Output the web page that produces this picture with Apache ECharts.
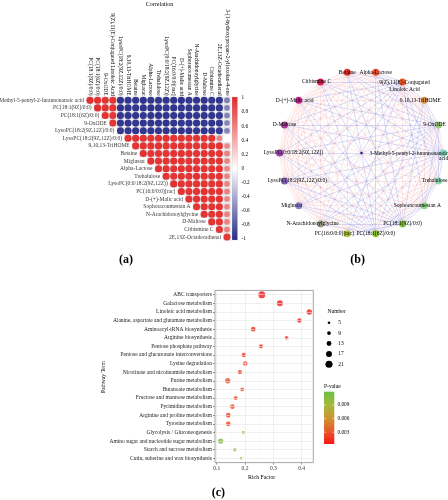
<!DOCTYPE html>
<html><head><meta charset="utf-8">
<script src="https://cdn.jsdelivr.net/npm/echarts@6/dist/echarts.min.js"></script>
<style>html,body{margin:0;padding:0;background:#fff}#c{width:448px;height:500px}</style>
</head><body><div id="c"></div>
<script>
// ---------- (a) correlation ----------
const corrVars = ['3-Methyl-5-pentyl-2-furannonanoic acid','PC(18:1(9Z)/0:0)','PC(18:1(6Z)/0:0)','9-OxODE','9(Z),11(E)-Conjugated Linoleic Acid','LysoPC(18:2(9Z,12Z)/0:0)','9,10,13-TriHOME','Betaine','Miglustat','Alpha-Lactose','Trehalulose','LysoPC(0:0/18:2(9Z,12Z))','PC(16:0/0:0)[rac]','D-(+)-Malic acid','Sophoracoumestan A','N-Arachidonoylglycine','D-Maltose','Citbismine C','2E,13Z-Octadecadienal','3-(1-hydroxypropan-2-yl)oxolan-4-one'];
const corrRowLabels = ['3-Methyl-5-pentyl-2-furannonanoic acid','PC(18:1(9Z)/0:0)','PC(18:1(6Z)/0:0)','9-OxODE','LysoPC(18:2(9Z,12Z)/0:0)','LysoPC(18:2(9Z,12Z)/0:0)','9,10,13-TriHOME','Betaine','Miglustat','Alpha-Lactose','Trehalulose','LysoPC(0:0/18:2(9Z,12Z))','PC(16:0/0:0)[rac]','D-(+)-Malic acid','Sophoracoumestan A','N-Arachidonoylglycine','D-Maltose','Citbismine C','2E,13Z-Octadecadienal'];
const corrColLabels = corrVars.slice(1);
// upper triangle, row i holds r(var i, var j) for j = i+1 .. 19
const corrValues = [
 [0.96,0.95,0.94,0.93,-0.95,-0.94,-0.95,-0.96,-0.95,-0.94,-0.95,-0.95,-0.96,-0.94,-0.95,-0.95,-0.94,-0.95,-0.60],
 [0.97,0.95,0.94,-0.95,-0.95,-0.94,-0.95,-0.96,-0.95,-0.94,-0.95,-0.95,-0.94,-0.95,-0.96,-0.95,-0.94,-0.58],
 [0.95,0.93,-0.94,-0.95,-0.95,-0.94,-0.95,-0.96,-0.95,-0.94,-0.95,-0.95,-0.94,-0.95,-0.95,-0.94,-0.59],
 [0.93,-0.94,-0.95,-0.94,-0.95,-0.95,-0.94,-0.96,-0.95,-0.94,-0.95,-0.95,-0.94,-0.95,-0.94,-0.57],
 [-0.93,-0.94,-0.95,-0.94,-0.95,-0.94,-0.95,-0.94,-0.95,-0.95,-0.94,-0.95,-0.94,-0.93,-0.58],
 [0.95,0.96,0.95,0.94,0.95,0.96,0.95,0.94,0.95,0.95,0.94,0.95,0.58],
 [0.95,0.94,0.95,0.96,0.95,0.94,0.95,0.95,0.94,0.95,0.96,0.95,0.57],
 [0.96,0.95,0.94,0.95,0.95,0.96,0.95,0.94,0.95,0.95,0.94,0.60],
 [0.95,0.94,0.95,0.96,0.95,0.94,0.95,0.95,0.94,0.95,0.58],
 [0.95,0.95,0.94,0.95,0.96,0.95,0.94,0.95,0.95,0.57],
 [0.95,0.94,0.95,0.95,0.96,0.95,0.94,0.95,0.59],
 [0.96,0.95,0.94,0.95,0.95,0.94,0.95,0.58],
 [0.95,0.94,0.95,0.96,0.95,0.94,0.60],
 [0.95,0.95,0.94,0.95,0.95,0.57],
 [0.94,0.95,0.95,0.94,0.58],
 [0.95,0.94,0.95,0.59],
 [0.95,0.94,0.58],
 [0.94,0.60],
 [0.92]
];
const corrLegendTicks = ['1','0.8','0.6','0.4','0.2','0','-0.2','-0.4','-0.6','-0.8','-1'];

// ---------- (b) network ----------
const netNodes = ['3-Methyl-5-pentyl-2-furannonanoic acid','9-OxODE','9,10,13-TriHOME','9(Z),11(E)-Conjugated Linoleic Acid','Alpha-Lactose','Betaine','Citbismine C','D-(+)-Malic acid','D-Maltose','LysoPC(0:0/18:2(9Z,12Z))','LysoPC(18:2(9Z,12Z)/0:0)','Miglustat','N-Arachidonoylglycine','PC(16:0/0:0)[rac]','PC(18:1(6Z)/0:0)','PC(18:1(9Z)/0:0)','Sophoracoumestan A','Trehalulose'];
const netColors = ['#7fd6b6','#9ccb7a','#d8924a','#ee5a22','#ec4a2e','#e8302c','#dc2050','#c8218a','#a83a9c','#9440a8','#8060b8','#9084d0','#9a9a80','#a8c630','#90c832','#88c63e','#92d68c','#88d8b2'];
const netLabelShift = {'LysoPC(0:0/18:2(9Z,12Z))':14,'LysoPC(18:2(9Z,12Z)/0:0)':13,'PC(16:0/0:0)[rac]':-13,'Miglustat':-7,'N-Arachidonoylglycine':-8,'Sophoracoumestan A':-7,'D-(+)-Malic acid':-4,'9,10,13-TriHOME':-4,'Citbismine C':-4,'9-OxODE':-4,'Trehalulose':-4};

// ---------- (c) enrichment ----------
const pathways = ['ABC transporters','Galactose metabolism','Linoleic acid metabolism','Alanine, aspartate and glutamate metabolism','Aminoacyl-tRNA biosynthesis','Arginine biosynthesis','Pentose phosphate pathway','Pentose and glucuronate interconversions','Lysine degradation','Nicotinate and nicotinamide metabolism','Purine metabolism','Butanoate metabolism','Fructose and mannose metabolism','Pyrimidine metabolism','Arginine and proline metabolism','Tyrosine metabolism','Glycolysis / Gluconeogenesis','Amino sugar and nucleotide sugar metabolism','Starch and sucrose metabolism','Cutin, suberine and wax biosynthesis'];
const richFactor = [0.259,0.323,0.427,0.392,0.229,0.347,0.256,0.196,0.201,0.182,0.139,0.190,0.167,0.155,0.141,0.141,0.194,0.114,0.164,0.186];
const hitNumber = [21,17,15,12,13,9,11,12,12,11,15,9,10,13,13,13,6,15,8,5];
const pValues = [0.0005,0.0007,0.0009,0.0010,0.0014,0.0011,0.0015,0.0018,0.0019,0.0021,0.0031,0.0027,0.0029,0.0026,0.0025,0.0025,0.0066,0.0108,0.0102,0.0110];
const richTicks = [0.1,0.2,0.3,0.4];
const richMinor = [0.15,0.25,0.35];
const numberLegend = [5,9,13,17,21];
const pLegendTicks = [0.009,0.006,0.003];

const SERIF = 'Liberation Serif, Times New Roman, serif';
const FS = 5.5;
const corrColors = ['#262a88','#ffffff','#e22828'];
const pColors = ['#f5161a','#e65a2a','#cd9632','#a3b83c','#6cbf45'];
const pMin = 0.0004, pMax = 0.0119;
const sizeOf = n => 1.2 + 0.28 * n;

// build corr data
const corrCells = [], corrPts = [];
corrValues.forEach((row, i) => row.forEach((r, k) => {
  const j = i + k;
  corrCells.push([j, i]);
  corrPts.push([j, i, r]);
}));
const rowLabelPts = corrRowLabels.map((name, i) => ({value: [i, i], name}));
const corrOf = (a, b) => { if (a > b) { const t = a; a = b; b = t; } return corrValues[a][b - a - 1]; };

// network
const N = netNodes.length;
const nodes = netNodes.map((name, i) => {
  const th = i * 2 * Math.PI / N;
  const isMethyl = i === 0;
  const isCLA = name.indexOf('Conjugated') >= 0;
  let label = {show: true, position: 'inside', color: '#000', fontSize: FS, fontFamily: SERIF, offset: [netLabelShift[name] || 0, 0]};
  if (isMethyl) label = Object.assign(label, {formatter: '3-Methyl-5-pentyl-2-furannonanoic\nacid', align: 'right', position: [8.2, 1], verticalAlign: 'top', lineHeight: 5.5, offset: [0,0]});
  if (isCLA) label = Object.assign(label, {formatter: '9(Z),11(E)-Conjugated\nLinoleic Acid', position: [3.5, 1], align: 'center', verticalAlign: 'top', lineHeight: 6.5, offset: [2,0]});
  return {name, value: [Math.cos(th), Math.sin(th)], symbolSize: 7, itemStyle: {color: netColors[i]}, label};
});
nodes.push({name: 'center', value: [0, 0], symbolSize: 2.5, itemStyle: {color: '#3b1c6e'}, label: {show: false}});
const links = [];
for (let a = 0; a < N; a++) for (let b = a + 1; b < N; b++) {
  const r = corrOf(corrVars.indexOf(netNodes[a]), corrVars.indexOf(netNodes[b]));
  links.push({source: a, target: b, lineStyle: r > 0 ? {color: 'rgba(236,130,130,0.5)', width: 0.7} : {color: 'rgba(105,105,215,0.7)', width: 0.7}});
}

const bubbleData = pathways.map((p, i) => [richFactor[i], i, pValues[i], hitNumber[i]]);

// graphics
const g = [];
const txt = (text, x, y, o) => g.push({type: 'text', x, y, silent: true, rotation: (o && o.rot) || 0, style: {text, fill: (o && o.fill) || '#000', font: ((o && o.weight) || 'normal') + ' ' + ((o && o.fs) || FS) + 'px ' + SERIF, align: (o && o.align) || 'left', verticalAlign: 'middle'}});
txt('Correlation', 159.5, 4.5, {align: 'center', fs: 6});
g.push({type: 'rect', shape: {x: 232, y: 97, width: 5.5, height: 143}, silent: true, style: {fill: new echarts.graphic.LinearGradient(0, 0, 0, 1, [{offset: 0, color: corrColors[2]}, {offset: 0.5, color: corrColors[1]}, {offset: 1, color: corrColors[0]}]), stroke: '#bbb', lineWidth: 0.3}});
corrLegendTicks.forEach((t, k) => txt(t, 241.5, 98 + k * 14.1, {fs: 5.2}));
txt('(a)', 126, 260, {align: 'center', fs: 12, weight: 'bold'});
txt('(b)', 357.7, 260, {align: 'center', fs: 12, weight: 'bold'});
txt('(c)', 218.3, 492.5, {align: 'center', fs: 12, weight: 'bold'});
txt('Pathway Term', 104, 377, {align: 'center', rot: Math.PI / 2});
txt('Rich Factor', 261.7, 477.5, {align: 'center', fs: 5.8});
txt('Number', 327.5, 311.7, {fs: 5.5});
numberLegend.forEach((n, k) => {
  const y = 322.7 + k * 10.4;
  g.push({type: 'circle', shape: {cx: 329, cy: y, r: sizeOf(n) / 2}, silent: true, style: {fill: '#000'}});
  txt(String(n), 338.3, y, {});
});
txt('P-value', 324, 386.3, {fs: 5.5});
const pStops = pColors.map((c, k) => ({offset: 1 - k / (pColors.length - 1), color: c}));
g.push({type: 'rect', shape: {x: 324, y: 391.7, width: 10.3, height: 52.3}, silent: true, style: {fill: new echarts.graphic.LinearGradient(0, 0, 0, 1, pStops.reverse())}});
pLegendTicks.forEach(v => {
  const y = 444 - (v - pMin) / (pMax - pMin) * 52.3;
  g.push({type: 'line', shape: {x1: 324, y1: y, x2: 326, y2: y}, silent: true, style: {stroke: '#fff', lineWidth: 0.5}});
  g.push({type: 'line', shape: {x1: 332.3, y1: y, x2: 334.3, y2: y}, silent: true, style: {stroke: '#fff', lineWidth: 0.5}});
  txt(v.toFixed(3), 337.5, y, {fs: 5.3});
});

const gridMarks = [];
richTicks.forEach(v => gridMarks.push({xAxis: v, lineStyle: {color: '#e6e6e6', width: 0.6, type: 'solid'}}));
richMinor.forEach(v => gridMarks.push({xAxis: v, lineStyle: {color: '#f3f3f3', width: 0.4, type: 'solid'}}));
pathways.forEach((p, i) => gridMarks.push({yAxis: i, lineStyle: {color: '#e6e6e6', width: 0.6, type: 'solid'}}));

const option = {
  animation: false,
  backgroundColor: '#fff',
  grid: [
    {left: 86.2, top: 96.5, width: 144.6, height: 144.4},
    {left: 279.5, top: 71, width: 164, height: 164},
    {left: 215, top: 290.4, width: 98.3, height: 172.2, show: true, borderColor: '#7f7f7f', borderWidth: 0.7, backgroundColor: '#fff', z: 0}
  ],
  xAxis: [
    {type: 'category', gridIndex: 0, data: corrColLabels, position: 'top', axisLine: {show: false}, axisTick: {show: false}, splitLine: {show: false},
     axisLabel: {rotate: 90, interval: 0, fontSize: FS, fontFamily: SERIF, color: '#000', margin: 0.8}},
    {type: 'value', gridIndex: 1, min: -1, max: 1, show: false},
    {type: 'value', gridIndex: 2, min: 0.094, max: 0.441, axisLine: {show: false}, splitLine: {show: false},
     axisTick: {show: true, customValues: richTicks, length: 2, lineStyle: {color: '#333', width: 0.5}},
     axisLabel: {customValues: richTicks, fontSize: FS, fontFamily: SERIF, color: '#333', margin: 3, formatter: v => Number(v).toFixed(1)}}
  ],
  yAxis: [
    {type: 'category', gridIndex: 0, data: corrRowLabels, inverse: true, show: false},
    {type: 'value', gridIndex: 1, min: -1, max: 1, show: false},
    {type: 'category', gridIndex: 2, data: pathways, inverse: true, axisLine: {show: false}, splitLine: {show: false},
     axisTick: {show: true, alignWithLabel: true, length: 2, lineStyle: {color: '#333', width: 0.5}},
     axisLabel: {interval: 0, fontSize: FS, fontFamily: SERIF, color: '#222', margin: 3}}
  ],
  visualMap: [
    {type: 'continuous', show: false, seriesIndex: 1, dimension: 2, min: -1, max: 1, inRange: {color: corrColors}},
    {type: 'continuous', show: false, seriesIndex: 5, dimension: 2, min: pMin, max: pMax, inRange: {color: pColors}}
  ],
  series: [
    {type: 'scatter', xAxisIndex: 0, yAxisIndex: 0, data: corrCells, symbol: 'rect', symbolSize: 7.61, silent: true,
     itemStyle: {color: '#d3d3d3', borderColor: '#fff', borderWidth: 0.5}, z: 1},
    {type: 'scatter', xAxisIndex: 0, yAxisIndex: 0, data: corrPts, symbolSize: v => 7.3 * Math.sqrt(Math.abs(v[2])), silent: true, itemStyle: {opacity: 1}, z: 2},
    {type: 'scatter', xAxisIndex: 0, yAxisIndex: 0, data: rowLabelPts, symbolSize: 7.61, silent: true, itemStyle: {color: 'rgba(0,0,0,0)'},
     label: {show: true, position: 'left', distance: 2.2, formatter: p => p.name, fontSize: FS, fontFamily: SERIF, color: '#000'}, z: 3},
    {type: 'graph', coordinateSystem: 'cartesian2d', xAxisIndex: 1, yAxisIndex: 1, layout: 'none', data: nodes, links: links, silent: true,
     edgeSymbol: ['none', 'none'], lineStyle: {curveness: 0}, z: 2},
    {type: 'scatter', xAxisIndex: 2, yAxisIndex: 2, data: [[0.2, 0]], symbolSize: 0, silent: true, z: 1,
     markLine: {silent: true, symbol: ['none', 'none'], label: {show: false}, animation: false, data: gridMarks}},
    {type: 'scatter', xAxisIndex: 2, yAxisIndex: 2, data: bubbleData, symbolSize: v => sizeOf(v[3]), silent: true, z: 3}
  ],
  graphic: g
};
const chart = echarts.init(document.getElementById('c'));
chart.setOption(option);
</script>
</body></html>
